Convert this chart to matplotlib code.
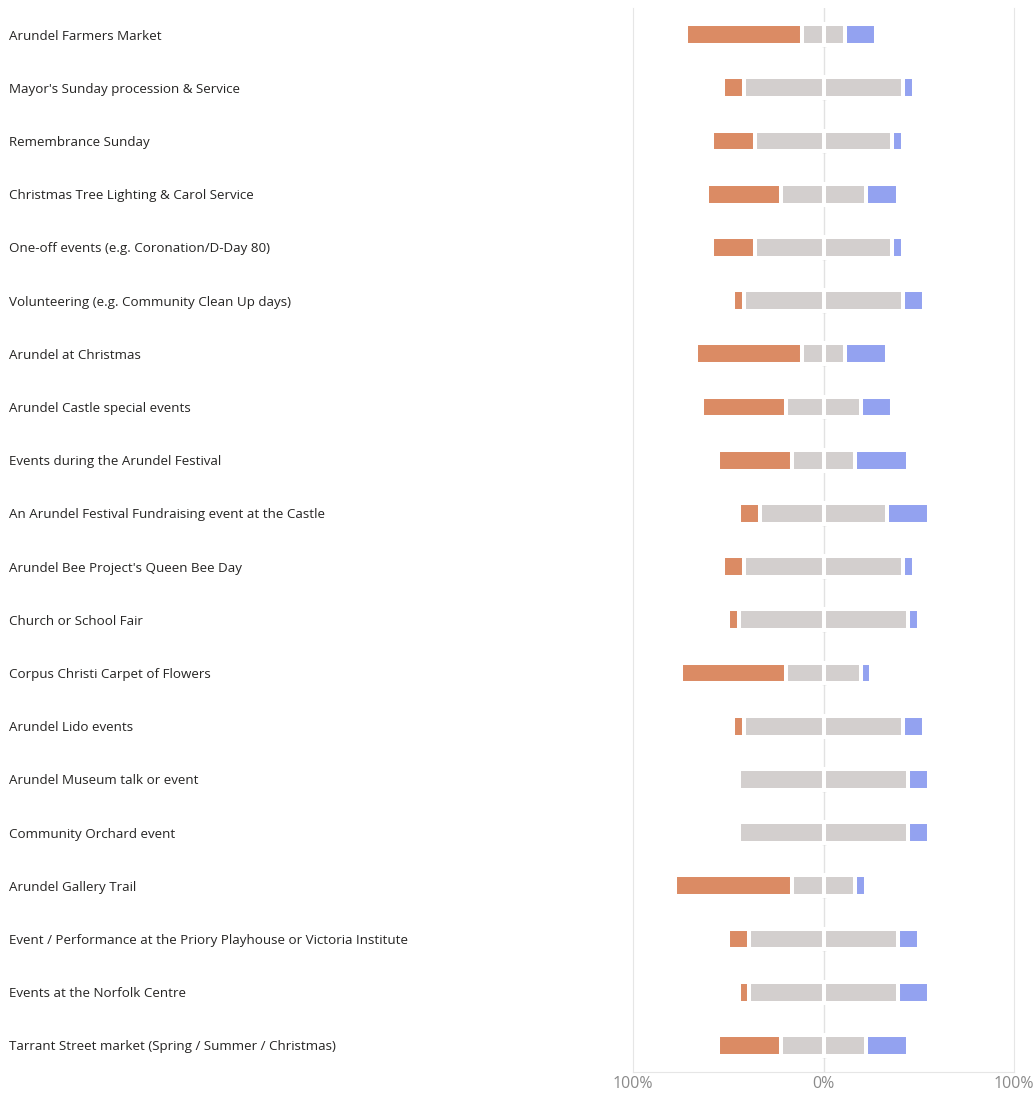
import matplotlib.pyplot as plt
import matplotlib.transforms as mtransforms
import numpy as np

events = [
    "Arundel Farmers Market",
    "Mayor's Sunday procession & Service",
    "Remembrance Sunday",
    "Christmas Tree Lighting & Carol Service",
    "One-off events (e.g. Coronation/D-Day 80)",
    "Volunteering (e.g. Community Clean Up days)",
    "Arundel at Christmas",
    "Arundel Castle special events",
    "Events during the Arundel Festival",
    "An Arundel Festival Fundraising event at the Castle",
    "Arundel Bee Project's Queen Bee Day",
    "Church or School Fair",
    "Corpus Christi Carpet of Flowers",
    "Arundel Lido events",
    "Arundel Museum talk or event",
    "Community Orchard event",
    "Arundel Gallery Trail",
    "Event / Performance at the Priory Playhouse or Victoria Institute",
    "Events at the Norfolk Centre",
    "Tarrant Street market (Spring / Summer / Christmas)",
]

# percentages
orange = [61.1, 11.1, 22.2, 38.9, 22.2, 5.6, 55.6, 44.4, 38.9, 11.1,
          11.1, 5.6, 55.6, 5.6, 0.0, 0.0, 61.1, 11.1, 5.6, 33.3]
neutral = [22.2, 83.3, 72.2, 44.4, 72.2, 83.3, 22.2, 38.9, 33.3, 66.7,
           83.3, 88.9, 38.9, 83.3, 88.9, 88.9, 33.3, 77.8, 77.8, 44.4]
blue = [16.7, 5.6, 5.6, 16.7, 5.6, 11.1, 22.2, 16.7, 27.8, 22.2,
        5.6, 5.6, 5.6, 11.1, 11.1, 11.1, 5.6, 11.1, 16.7, 22.2]

c_orange = "#DB8B64"
c_grey = "#D3CFCE"
c_blue = "#93A2F0"

plt.rcParams['font.family'] = ['Open Sans', 'DejaVu Sans']

fig = plt.figure(figsize=(10.35, 10.93), dpi=100)
ax = fig.add_axes([633/1035, 21/1093, 381/1035, 1064/1093])

y = np.arange(len(events))
orange = np.array(orange)
half = np.array(neutral) / 2
blue = np.array(blue)

ax.axvline(0, color="#e2e2e2", lw=1, zorder=0)
ax.plot(np.zeros(len(y) * 2), np.concatenate([y - 0.21, y + 0.21]), ls="none",
        marker="_", ms=3, color="#cfcfcf", zorder=0)

h = 0.39
kw = dict(height=h, edgecolor="white", linewidth=2.9, zorder=2)
ax.barh(y, -half, left=0, color=c_grey, **kw)
ax.barh(y, -orange, left=-half, color=c_orange, **kw)
ax.barh(y, half, left=0, color=c_grey, **kw)
ax.barh(y, blue, left=half, color=c_blue, **kw)

ax.set_xlim(-100, 100)
ax.set_ylim(len(events) - 0.5, -0.5)
ax.set_yticks([])
ax.set_xticks([-100, 0, 100])
ax.set_xticklabels(["100%", "0%", "100%"], fontsize=11.5, color="#8a8a8a")
ax.tick_params(axis="x", length=0, pad=3)
for s in ["left", "right", "bottom"]:
    ax.spines[s].set_color("#e6e6e6")
ax.spines["top"].set_visible(False)

trans = mtransforms.blended_transform_factory(fig.transFigure, ax.transData)
for i, name in enumerate(events):
    ax.text(9/1035, i, name, transform=trans, ha="left", va="center_baseline",
            fontsize=9.65, color="#252423")

fig.savefig("out.png", dpi=100)
